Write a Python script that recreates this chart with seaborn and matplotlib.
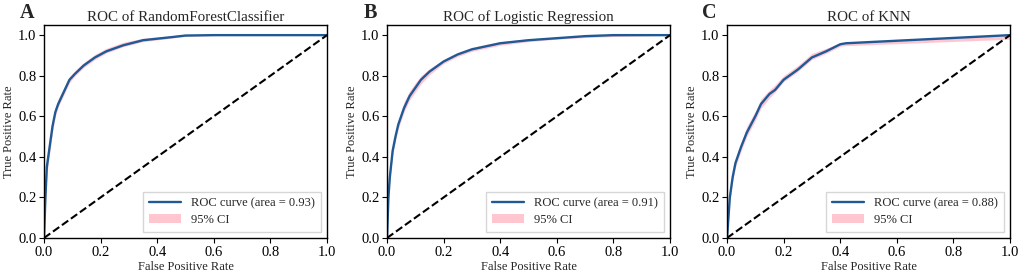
import numpy as np
import pandas as pd
import matplotlib
matplotlib.use("Agg")
import matplotlib.pyplot as plt
import seaborn as sns

# ROC curves (fpr, tpr) plus a rough 95% CI band
rf_fpr = [0, 0.005, 0.01, 0.02, 0.03, 0.04, 0.05, 0.07, 0.09, 0.11, 0.14, 0.18, 0.22, 0.28, 0.35, 0.45, 0.5, 0.6, 1.0]
rf_tpr = [0, 0.2, 0.35, 0.45, 0.55, 0.62, 0.66, 0.72, 0.78, 0.81, 0.85, 0.89, 0.92, 0.95, 0.975, 0.99, 0.998, 1.0, 1.0]
rf_lo = [0, 0.16, 0.31, 0.42, 0.52, 0.60, 0.645, 0.705, 0.765, 0.80, 0.84, 0.88, 0.912, 0.943, 0.968, 0.985, 0.994, 0.998, 1.0]
rf_hi = [0, 0.25, 0.40, 0.49, 0.58, 0.645, 0.685, 0.74, 0.795, 0.825, 0.865, 0.905, 0.935, 0.965, 0.985, 0.997, 1.003, 1.003, 1.002]

lr_fpr = [0, 0.005, 0.01, 0.02, 0.03, 0.04, 0.06, 0.08, 0.1, 0.12, 0.15, 0.2, 0.25, 0.3, 0.35, 0.4, 0.5, 0.6, 0.7, 0.8, 1.0]
lr_tpr = [0, 0.2, 0.3, 0.43, 0.5, 0.56, 0.64, 0.7, 0.74, 0.78, 0.82, 0.87, 0.905, 0.93, 0.945, 0.96, 0.975, 0.985, 0.995, 1.0, 1.0]
lr_lo = [0, 0.18, 0.28, 0.41, 0.48, 0.54, 0.62, 0.68, 0.72, 0.76, 0.805, 0.86, 0.895, 0.92, 0.935, 0.95, 0.968, 0.98, 0.988, 0.993, 1.0]
lr_hi = [0, 0.22, 0.32, 0.45, 0.52, 0.58, 0.67, 0.725, 0.765, 0.80, 0.835, 0.88, 0.915, 0.94, 0.955, 0.968, 0.982, 0.99, 0.998, 1.0, 1.0]

knn_fpr = [0, 0.005, 0.01, 0.02, 0.03, 0.05, 0.07, 0.1, 0.12, 0.15, 0.17, 0.2, 0.25, 0.3, 0.35, 0.4, 0.42, 1.0]
knn_tpr = [0, 0.1, 0.2, 0.3, 0.37, 0.45, 0.52, 0.6, 0.66, 0.71, 0.73, 0.78, 0.83, 0.89, 0.92, 0.955, 0.96, 1.0]
knn_lo = [0, 0.08, 0.18, 0.28, 0.35, 0.43, 0.50, 0.58, 0.64, 0.69, 0.72, 0.77, 0.82, 0.88, 0.91, 0.945, 0.948, 0.98]
knn_hi = [0, 0.12, 0.22, 0.32, 0.39, 0.47, 0.55, 0.625, 0.685, 0.73, 0.755, 0.80, 0.85, 0.91, 0.935, 0.962, 0.965, 1.0]

panels = ["A", "B", "C"]
titles = ["ROC of RandomForestClassifier", "ROC of Logistic Regression", "ROC of KNN"]
aucs = [0.93, 0.91, 0.88]
curves = [
    (rf_fpr, rf_tpr, rf_lo, rf_hi),
    (lr_fpr, lr_tpr, lr_lo, lr_hi),
    (knn_fpr, knn_tpr, knn_lo, knn_hi),
]

sns.set_theme(style="ticks")
plt.rcParams["font.family"] = ["Liberation Serif", "DejaVu Serif"]
plt.rcParams["axes.edgecolor"] = "black"
plt.rcParams["axes.linewidth"] = 1.0

fig = plt.figure(figsize=(10.22, 2.78), dpi=100)
lefts = [44, 387, 727]
line_color = "#1f5a96"

for i in range(3):
    ax = fig.add_axes([lefts[i] / 1022, 40 / 278, 283 / 1022, 213 / 278])
    fpr, tpr, lo, hi = curves[i]
    df = pd.DataFrame({"fpr": fpr, "tpr": tpr})
    ax.fill_between(fpr, lo, hi, color="pink", alpha=0.9, lw=0, label="95% CI")
    sns.lineplot(data=df, x="fpr", y="tpr", ax=ax, color=line_color, lw=1.7,
                 estimator=None, sort=False, label=f"ROC curve (area = {aucs[i]:.2f})")
    ax.plot([0, 1], [0, 1], color="black", ls="--", lw=1.5)
    ax.set_xlim(0, 1.0)
    ax.set_ylim(0, 1.05)
    ax.set_xticks(np.arange(0, 1.01, 0.2))
    ax.set_yticks(np.arange(0, 1.01, 0.2))
    ax.tick_params(labelsize=10.5, length=3.5, width=0.8, colors="black", pad=2)
    ax.set_xlabel("False Positive Rate", fontsize=9, labelpad=2)
    ax.set_ylabel("True Positive Rate", fontsize=9, labelpad=2)
    ax.set_title(titles[i], fontsize=10.8, pad=3)
    handles, labels = ax.get_legend_handles_labels()
    order = [labels.index(l) for l in labels if l.startswith("ROC")] + [labels.index("95% CI")]
    ax.legend([handles[j] for j in order], [labels[j] for j in order],
              loc="lower right", fontsize=9, frameon=True, fancybox=False,
              edgecolor="#cccccc", handlelength=2.6, borderpad=0.45,
              labelspacing=0.4)
    ax.text(-0.035, 1.056, panels[i], transform=ax.transAxes, fontsize=14.5,
            fontweight="bold", ha="right", va="center")

fig.savefig("out.png", dpi=100)
